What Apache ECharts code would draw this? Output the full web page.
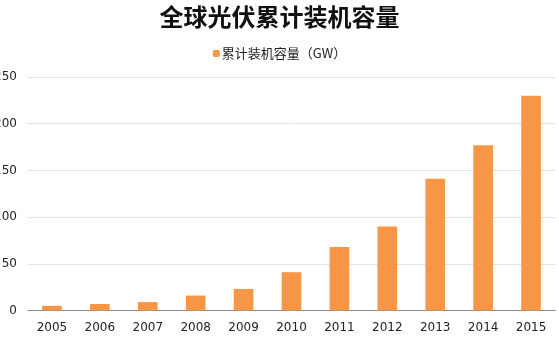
<!DOCTYPE html>
<html>
<head>
<meta charset="utf-8">
<script src="https://cdn.jsdelivr.net/npm/echarts@6/dist/echarts.min.js"></script>
<style>
    html, body { margin: 0; padding: 0; background: #fff; }
    #chart { width: 559px; height: 354px; }
</style>
</head>
<body>
<div id="chart"></div>
<script>
// years on the x axis
const years = ['2005', '2006', '2007', '2008', '2009', '2010', '2011', '2012', '2013', '2014', '2015'];
// cumulative installed capacity, GW
const capacity = [5, 7, 9, 16, 23, 41, 68, 90, 141, 177, 230];
const seriesName = '累计装机容量（GW）';
const chartTitle = '全球光伏累计装机容量';

let chart = echarts.init(document.getElementById('chart'));

let option = {
    animation: false,
    title: {
        left: 'center',
        top: 0,
        text: chartTitle,
        textStyle: {
            fontFamily: 'Noto Sans CJK SC',
            fontSize: 24,
            fontWeight: 'bold',
            color: '#111'
        }
    },
    legend: {
        top: 42,
        left: 'center',
        itemWidth: 7,
        itemHeight: 7,
        itemGap: 4,
        data: [seriesName],
        textStyle: {
            fontFamily: 'Noto Sans CJK SC',
            fontSize: 13,
            color: '#222',
            padding: [0, 0, 0, -3]
        }
    },
    grid: {
        left: 28,
        right: 4,
        top: 77,
        bottom: 43.5,
        outerBoundsMode: 'none'
    },
    xAxis: {
        type: 'category',
        data: years,
        axisLine: { lineStyle: { color: '#888' } },
        axisTick: { length: 5, lineStyle: { color: '#888' } },
        axisLabel: {
            margin: 11,
            fontFamily: 'DejaVu Sans',
            fontSize: 12,
            color: '#222'
        }
    },
    yAxis: {
        type: 'value',
        min: 0,
        max: 250,
        interval: 50,
        axisLine: { show: false },
        axisTick: { show: false },
        axisLabel: {
            margin: 11,
            fontFamily: 'DejaVu Sans',
            fontSize: 12,
            color: '#222'
        },
        splitLine: { lineStyle: { color: '#dce3ee' } }
    },
    series: [
        {
            name: seriesName,
            type: 'bar',
            barWidth: '41%',
            itemStyle: { color: '#f79646' },
            data: capacity
        }
    ]
};

chart.setOption(option);
</script>
</body>
</html>
